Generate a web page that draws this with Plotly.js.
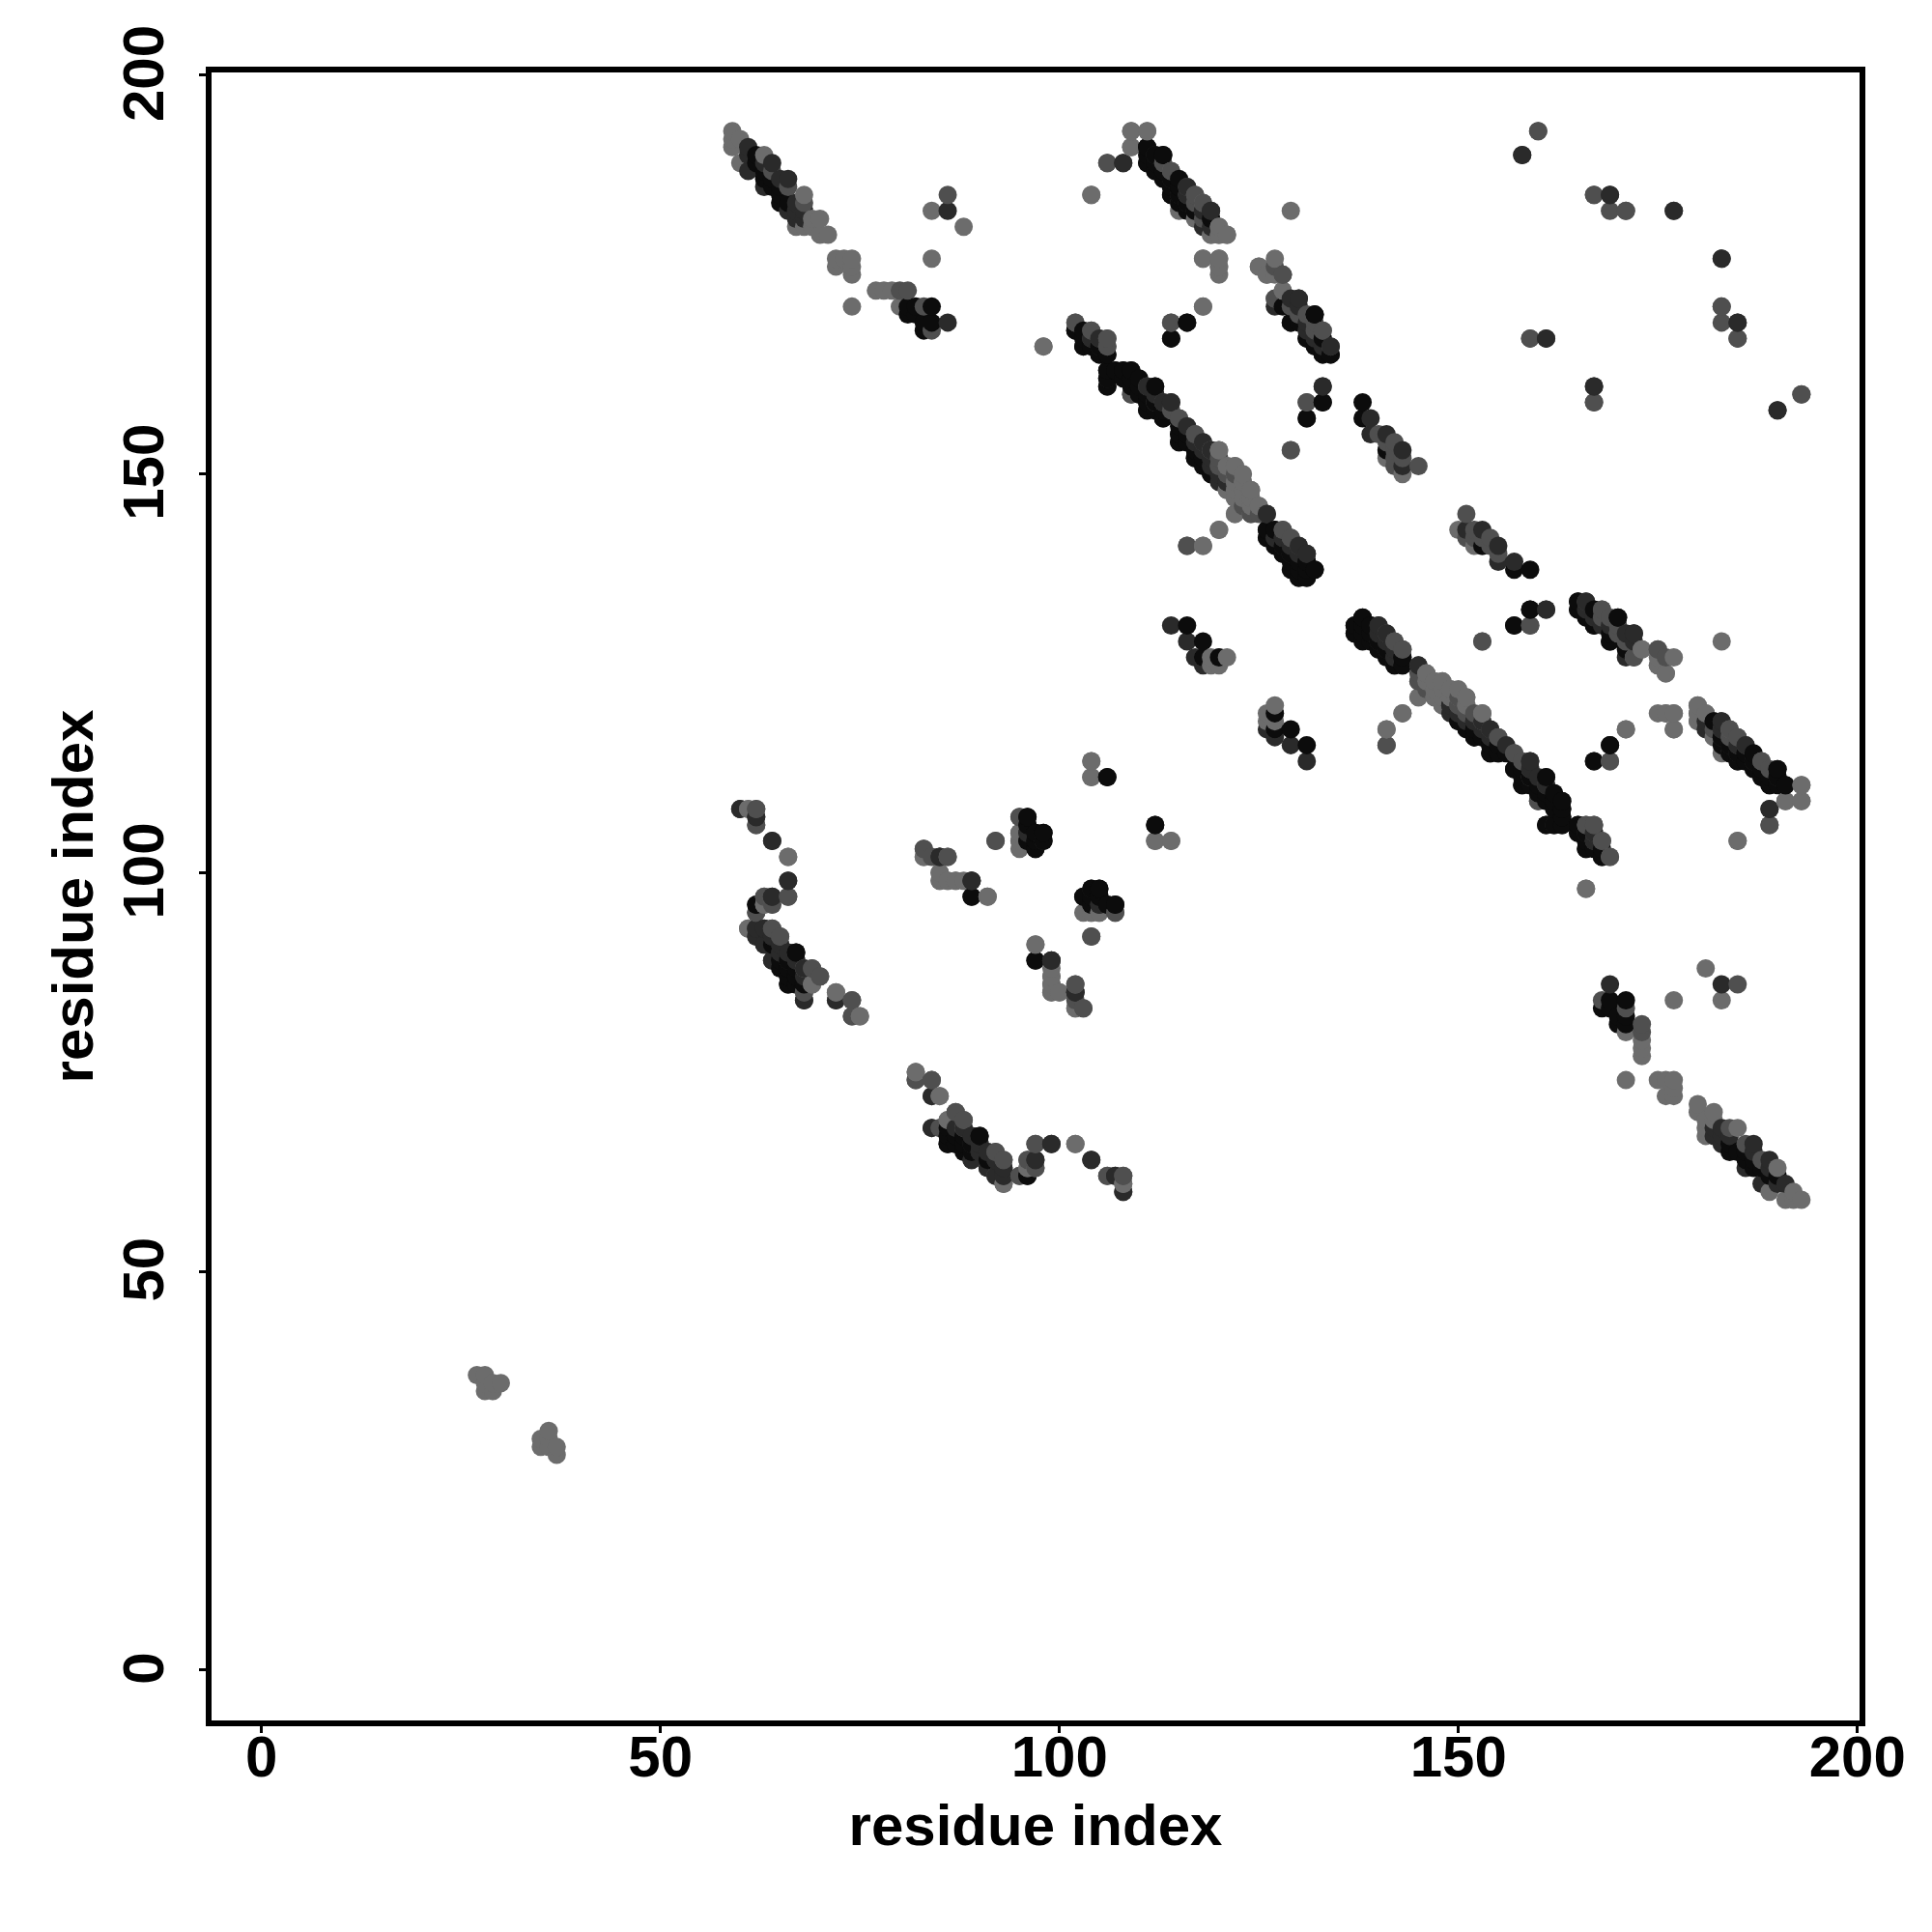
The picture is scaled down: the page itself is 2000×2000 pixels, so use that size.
<!DOCTYPE html>
<html><head><meta charset="utf-8">
<script src="https://cdn.plot.ly/plotly-3.0.1.min.js"></script>
<style>html,body{margin:0;padding:0;background:#fff}</style></head>
<body><div id="chart" style="width:2000px;height:2000px"></div>
<script>
// Contacts, as residue pairs [i, j], grouped by shade.
// The map is symmetric: each pair appears at (i,j) and (j,i).
const lightContacts = [[27,37],[28,37],[28,36],[28,35],[29,35],[29,36],[30,36],
[59,193],[59,192],[59,191],[60,192],[60,189],[63,190],[68,185],[67,181],[68,181],[69,182],[70,182],[70,180],[71,180],[69,181],
[72,177],[72,176],[73,177],[74,177],[74,176],[74,175],[74,171],[77,173],[78,173],[79,173],[80,171],[84,183],[88,181],[84,177],
[104,185],[109,193],[111,193],[109,191],[114,188],[118,184],[117,182],[120,181],[119,180],[120,180],[121,180],[118,177],[120,177],[120,176],[118,171],[98,166],
[119,153],[120,153],[121,151],[122,151],[123,149],[124,148],[121,148],[122,147],[122,145],[125,146],[120,143],[118,141],
[120,175],[125,176],[126,175],[127,175],[128,173],[127,172],[129,153],[143,150],[141,152],[146,125],[145,124],[148,124],[149,123],[145,122],[147,122],[148,121],[151,122],[153,120],[143,120],[141,118],
[169,102],[166,98],[173,128],[177,127],[175,126],[176,125],[183,129],[176,120],[177,120],[177,118],[171,118],[169,114],[180,121],[180,120],[181,120],[180,119],[183,115],[193,111],[191,109],[193,109],[185,104],
[61,93],[61,108],[66,102],[63,97],[63,96],[68,88],[69,86],[72,85],[75,82],
[83,102],[85,100],[85,99],[86,99],[87,99],[88,99],[91,97],[95,105],[95,104],[103,95],[104,95],[105,95],[97,91],[99,87],[99,86],[99,85],[100,85],[102,83],[102,86],[112,104],[114,104],[104,114],[104,112],
[82,75],[85,72],[86,69],[93,61],[96,63],[96,64],[102,66],[108,61],[119,127],[121,127],[120,126],[126,119],[127,120],
[122,150],[123,148],[122,149],[124,147],[123,147],[146,124],[147,124],[147,123],[148,123],[148,122],[150,123],[149,122],[151,121]];
const midContacts = [[64,188],[66,186],[68,184],[80,173],[81,173],[83,171],[86,185],[84,168],[106,189],[113,189],[116,186],[117,185],[115,184],[118,182],
[102,169],[104,168],[104,167],[105,167],[106,167],[106,166],[109,160],[111,161],[113,159],[112,159],[115,157],[117,155],[118,154],[120,151],[116,141],[124,145],[128,143],[129,142],
[128,175],[130,170],[131,170],[132,168],[133,168],[131,159],[140,155],[141,153],[143,152],[142,151],[145,151],[114,169],[141,130],[142,129],[143,128],[145,126],[150,122],[152,120],[155,117],[141,116],[153,129],
[157,115],[158,114],[160,109],[166,106],[167,106],[168,104],[159,131],[166,134],[168,133],[171,129],[172,127],[175,128],[176,127],[184,118],[185,117],[188,114],[189,106],
[60,108],[62,108],[62,106],[66,97],[64,93],[65,92],[62,92],[62,95],[64,96],[69,88],[70,87],[68,85],[74,84],[74,82],
[83,103],[84,102],[86,102],[92,104],[95,107],[107,95],[104,92],[99,89],[102,85],[103,83],
[82,74],[84,74],[84,72],[85,68],[87,70],[88,69],[92,65],[93,64],[95,62],[97,63],[97,66],[106,62],[108,62],[160,193],[167,185],[171,183],[177,183],[183,171],[183,169],[185,167],[159,167],[167,159],[193,160],[118,127],
[121,150],[151,120],[150,121],[123,146],[125,145],[142,153],[142,154],[142,152],[141,154],[116,185],[117,184],[118,183],[130,170],[132,169]];
const darkContacts = [[61,191],[61,190],[61,188],[63,186],[67,184],[67,182],[68,182],[86,183],[86,169],[108,189],[119,183],[119,181],
[106,162],[112,161],[114,159],[120,149],[126,145],[126,142],[130,141],[131,140],[129,140],
[129,172],[130,172],[134,166],[133,161],[131,157],[114,167],[139,157],[139,155],[141,155],[143,153],[143,151],[140,131],[149,121],[154,118],[186,116],[161,133],[172,130],[171,127],[183,119],[159,114],[161,111],[189,108],
[62,107],[64,104],[66,99],[64,97],[62,93],[63,93],[63,91],[65,90],[66,90],[64,89],[68,84],[72,84],
[85,102],[89,99],[89,97],[96,105],[98,104],[105,96],[99,89],[102,85],
[84,68],[89,67],[89,64],[91,65],[91,63],[92,62],[93,62],[97,64],[99,66],[104,64],[107,62],[108,60],[158,190],[169,185],[183,177],[185,169],[161,167],[167,161],[190,158],[114,131],[116,129],[118,126],[127,117],
[63,189],[64,189],[65,187],[66,187],[66,183],[67,183],[68,183],[115,185],[116,184],[117,183],[118,181],[119,182],[119,152],[119,151],[120,150],[121,149],
[127,142],[128,142],[128,141],[129,141],[130,140],[130,171],[131,169],[131,168],[132,167],[133,167],[133,166],[140,130],[141,129],[142,128],[142,127],
[150,120],[152,119],[153,119],[153,118],[154,117],[156,116],[159,113],[160,112],[166,105],[167,105],[167,104],[183,118],[185,116],[187,114],[190,112],
[64,92],[65,91],[67,89],[68,87],[88,68],[89,66],[90,66],[90,65],[91,64],[92,64],[93,63]];
const blackContacts = [[62,190],[62,189],[63,188],[64,186],[65,186],[65,184],[66,184],[81,171],[82,171],[84,171],[81,170],[82,170],[83,169],[84,169],[83,168],
[111,191],[111,189],[112,190],[113,190],[112,188],[114,186],[114,185],[115,186],[116,183],[116,169],
[102,168],[103,168],[103,166],[105,165],[106,165],[106,163],[107,163],[108,163],[109,163],[106,161],[109,162],[111,159],[111,158],[113,157],
[115,155],[115,154],[116,155],[117,152],[118,152],[119,150],[126,143],[127,143],[128,140],[129,139],[130,139],[131,139],[132,138],[130,137],[131,137],
[128,171],[129,169],[132,170],[131,167],[133,165],[134,165],[133,159],[138,159],[138,157],[141,153],
[138,132],[137,131],[137,130],[138,131],[139,131],[140,128],[141,127],[142,126],[143,126],[143,127],[150,119],[152,117],[154,115],[155,115],
[157,113],[158,111],[159,111],[161,112],[161,109],[162,109],[163,109],[163,108],[161,106],[162,106],[163,106],[165,106],[165,105],[166,103],[167,103],[168,102],
[159,133],[157,131],[165,134],[165,133],[167,133],[170,132],[167,131],[169,129],[169,116],[167,114],[182,119],[183,117],[184,115],[185,114],[186,114],[190,113],[188,112],[189,111],[191,111],
[62,96],[64,91],[65,89],[67,90],[66,88],[66,86],[67,87],[67,86],[68,86],
[96,107],[96,106],[96,104],[97,103],[98,105],[97,104],[103,97],[104,98],[105,98],[104,97],[107,96],[106,96],[97,89],[112,106],[106,112],
[86,67],[86,66],[87,67],[88,66],[90,67],[96,62],[116,131],[118,129],[120,127],[127,118],
[63,187],[64,187],[65,185],[113,188],[114,187],[115,187],[104,166],[105,166],[110,160],[112,158],[113,158],[116,154],[117,153],[118,151],[129,138],[130,138],[131,138],
[130,169],[132,166],[139,130],[140,129],[141,128],[152,118],[153,117],[154,116],[156,115],[158,113],[159,112],[160,111],[160,110],[161,110],[162,110],[162,108],[163,107],[166,104],
[184,116],[185,115],[186,115],[187,113],[188,113],[189,112],[190,111],[65,88],[66,89],[66,87],[67,88],[87,66],[88,67],[97,105],[105,97],[104,96]];

const shades = {light:'#6c6c6c', mid:'#4f4f4f', dark:'#2a2a2a', black:'#0c0c0c'};
const tickValues = [0,50,100,150,200];
const axisLabel = 'residue index';

let pts = [];
[[lightContacts,shades.light],[midContacts,shades.mid],[darkContacts,shades.dark],[blackContacts,shades.black]].forEach(([list,c])=>{
  list.forEach(([i,j])=>{ pts.push([i,j,c]); pts.push([j,i,c]); });
});
// Drawn column by column, bottom to top.
pts.sort((a,b)=>a[0]-b[0]||a[1]-b[1]);

const font = {family:'"Liberation Sans",Arial,sans-serif', size:60, color:'#000', weight:700};
const axisBase = {tickmode:'array', tickvals:tickValues, ticktext:tickValues.map(String), ticks:'outside', ticklen:7, tickwidth:3,
  tickcolor:'#000', showline:true, linewidth:6, linecolor:'#000', mirror:true, showgrid:false, zeroline:false, tickfont:font, automargin:false};

Plotly.newPlot('chart',[{type:'scatter',mode:'markers',x:pts.map(p=>p[0]),y:pts.map(p=>p[1]),
  marker:{size:19,color:pts.map(p=>p[2]),line:{width:0}},hoverinfo:'skip',showlegend:false}],
{width:2000,height:2000,paper_bgcolor:'#fff',plot_bgcolor:'#fff',showlegend:false,
 margin:{l:219,r:75,t:75,b:219,pad:0},
 xaxis:Object.assign({},axisBase,{range:[-6.26,200.28],ticklabelstandoff:-27,title:{text:axisLabel,font:font,standoff:19}}),
 yaxis:Object.assign({},axisBase,{range:[-6.3,200.36],tickangle:-90,ticklabelstandoff:13,ticklabelshift:7,title:{text:axisLabel,font:font,standoff:1}})
},{staticPlot:true,displayModeBar:false});
</script></body></html>
